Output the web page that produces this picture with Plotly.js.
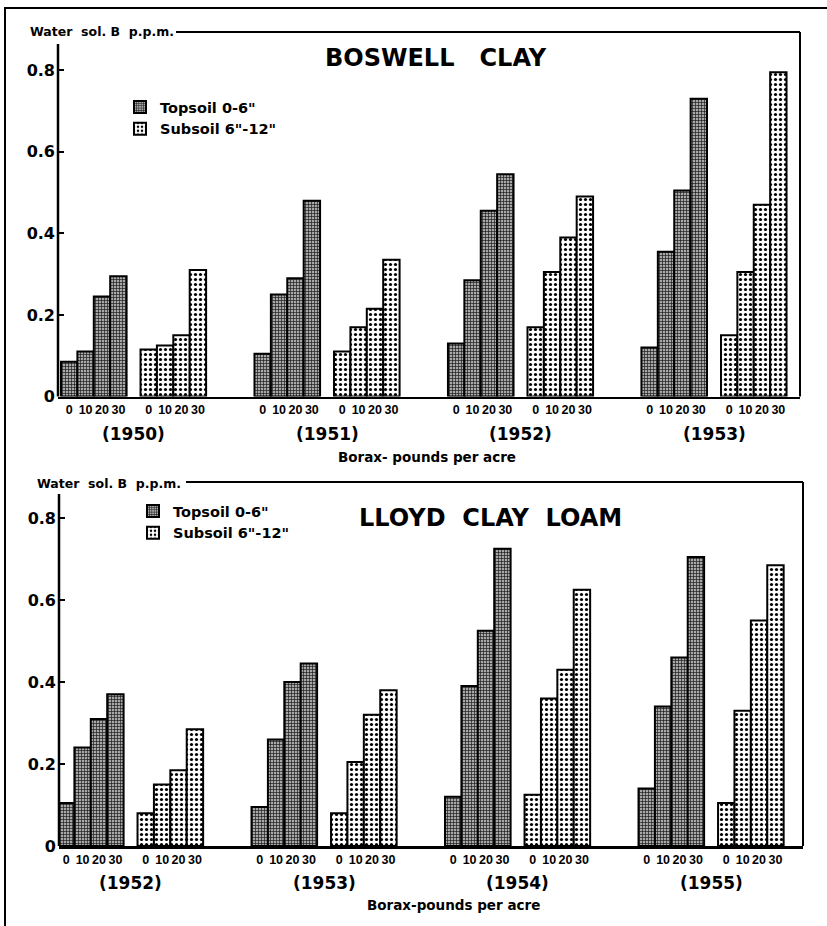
<!DOCTYPE html>
<html>
<head>
<meta charset="utf-8">
<script src="https://cdn.plot.ly/plotly-3.0.1.min.js"></script>
<style>html,body{margin:0;padding:0;background:#fff;}#chart{width:827px;height:926px;}</style>
</head>
<body>
<div id="chart"></div>
<script>
// ---------- data ----------
const doses = ['0', '10', '20', '30'];
const boswellYears = ['1950', '1951', '1952', '1953'];
const lloydYears = ['1952', '1953', '1954', '1955'];
// values grouped by year, four borax rates each (0, 10, 20, 30 lb/acre)
const boswellTopsoil = [0.085, 0.11, 0.245, 0.295,  0.105, 0.25, 0.29, 0.48,  0.13, 0.285, 0.455, 0.545,  0.12, 0.355, 0.505, 0.73];
const boswellSubsoil = [0.115, 0.125, 0.15, 0.31,  0.11, 0.17, 0.215, 0.335,  0.17, 0.305, 0.39, 0.49,  0.15, 0.305, 0.47, 0.795];
const lloydTopsoil = [0.105, 0.24, 0.31, 0.37,  0.095, 0.26, 0.40, 0.445,  0.12, 0.39, 0.525, 0.725,  0.14, 0.34, 0.46, 0.705];
const lloydSubsoil = [0.08, 0.15, 0.185, 0.285,  0.08, 0.205, 0.32, 0.38,  0.125, 0.36, 0.43, 0.625,  0.105, 0.33, 0.55, 0.685];
const yTickVals = [0, 0.2, 0.4, 0.6, 0.8];
const yTickText = ['0', '0.2', '0.4', '0.6', '0.8'];
const legendTop = 'Topsoil 0-6"';
const legendSub = 'Subsoil 6"-12"';

// ---------- layout helpers ----------
const W = 827, H = 926;
const YEAR_STEP = 11.8, SOIL_STEP = 4.85;
const FONT = 'DejaVu Sans';
function pos(yearIdx, soilIdx, doseIdx) { return yearIdx * YEAR_STEP + soilIdx * SOIL_STEP + doseIdx; }
function xs(soilIdx) { const a = []; for (let y = 0; y < 4; y++) for (let d = 0; d < 4; d++) a.push(pos(y, soilIdx, d)); return a; }
const px = v => v / W, py = v => 1 - v / H;

const topPattern = {shape: '+', fgcolor: '#1a1a1a', bgcolor: '#a8a8a8', size: 3, solidity: 0.4};
const subPattern = {shape: '.', fgcolor: '#000', bgcolor: '#fff', size: 5, solidity: 0.32};
function barTrace(xvals, yvals, name, pattern, xa, ya, leg) {
  return {
    type: 'bar', x: xvals, y: yvals, name: name, width: 1,
    xaxis: xa, yaxis: ya, legend: leg,
    marker: {color: pattern.bgcolor, pattern: pattern, line: {color: '#000', width: 2}},
    hoverinfo: 'y'
  };
}
const data = [
  barTrace(xs(0), boswellTopsoil, legendTop, topPattern, 'x', 'y', 'legend'),
  barTrace(xs(1), boswellSubsoil, legendSub, subPattern, 'x', 'y', 'legend'),
  barTrace(xs(0), lloydTopsoil, legendTop, topPattern, 'x2', 'y2', 'legend2'),
  barTrace(xs(1), lloydSubsoil, legendSub, subPattern, 'x2', 'y2', 'legend2')
];

const tickX = xs(0).concat(xs(1));
const tickT = tickX.map((_, i) => doses[i % 4]);

function xAxis(domain, range, anchor) {
  return {domain: domain, range: range, anchor: anchor, showgrid: false, zeroline: false,
    showline: true, linecolor: '#000', linewidth: 2.5, ticks: '', tickmode: 'array', tickangle: 0,
    tickvals: tickX, ticktext: tickT, tickfont: {family: 'Liberation Sans', size: 12.5, weight: 'bold', color: '#000'},
    automargin: false, fixedrange: true};
}
function yAxis(domain, range, anchor) {
  return {domain: domain, range: range, anchor: anchor, showgrid: false, zeroline: false,
    showline: false, ticks: 'inside', ticklen: 6, tickwidth: 2, tickcolor: '#000',
    tickmode: 'array', tickvals: yTickVals, ticktext: yTickText,
    tickfont: {family: FONT, size: 16, weight: 'bold', color: '#000'}, ticklabelstandoff: 2,
    automargin: false, fixedrange: true};
}

const annotations = [];
function ann(text, x, y, size, anchor, bold) {
  annotations.push({text: text, x: px(x), y: py(y), xref: 'paper', yref: 'paper', showarrow: false,
    xanchor: anchor || 'center', yanchor: 'middle',
    font: {family: FONT, size: size, weight: bold === false ? 'normal' : 'bold', color: '#000'}});
}
function yearAnn(yearText, yearIdx, xa, yPx) {
  annotations.push({text: '(' + yearText + ')', x: pos(yearIdx, 0, 0) + (SOIL_STEP + 3) / 2, y: py(yPx),
    xref: xa, yref: 'paper', showarrow: false, xanchor: 'center', yanchor: 'middle',
    font: {family: FONT, size: 17, weight: 'bold', color: '#000'}});
}
boswellYears.forEach((t, i) => yearAnn(t, i, 'x', 434));
lloydYears.forEach((t, i) => yearAnn(t, i, 'x2', 883));
ann('BOSWELL &nbsp; CLAY', 436, 58, 24);
ann('LLOYD &nbsp;CLAY &nbsp;LOAM', 490, 518, 24);
ann('Borax- pounds per acre', 427, 457, 13.5);
ann('Borax-pounds per acre', 453, 905, 13.5);
ann('Water &nbsp;sol. B &nbsp;p.p.m.', 28, 32, 12.5, 'left');
ann('Water &nbsp;sol. B &nbsp;p.p.m.', 35, 483, 12.5, 'left');

function line(x0, y0, x1, y1, w) {
  return {type: 'line', xref: 'paper', yref: 'paper', x0: px(x0), y0: py(y0), x1: px(x1), y1: py(y1),
    line: {color: '#000', width: w || 2}};
}
const shapes = [
  line(5, 7, 5, 926, 2),       // page left edge
  line(5, 8, 827, 8, 2),       // page top edge
  line(176, 32, 800, 32, 2),   // top chart frame
  line(800, 32, 800, 396.5, 2),
  line(58, 44, 58, 396.5, 2.5),
  line(186, 482, 803, 482, 2), // bottom chart frame
  line(803, 482, 803, 846, 2),
  line(59, 494, 59, 846, 2.5)
];

const legendFont = {family: FONT, size: 14.5, weight: 'bold', color: '#000'};
const layout = {
  width: W, height: H, margin: {l: 0, r: 0, t: 0, b: 0},
  paper_bgcolor: '#fff', plot_bgcolor: 'rgba(0,0,0,0)',
  barmode: 'overlay', bargap: 0,
  xaxis: xAxis([px(58), px(800)], [-0.683, 44.57], 'y'),
  yaxis: yAxis([py(396.5), py(32)], [0, (396.5 - 32) / 408], 'x'),
  xaxis2: xAxis([px(59), px(803)], [-0.439, 44.93], 'y2'),
  yaxis2: yAxis([py(846), py(482)], [0, (846 - 482) / 410], 'x2'),
  legend: {x: px(120), y: py(91), xanchor: 'left', yanchor: 'top', bgcolor: 'rgba(0,0,0,0)',
    font: legendFont, tracegroupgap: 0, itemwidth: 30},
  legend2: {x: px(133), y: py(495), xanchor: 'left', yanchor: 'top', bgcolor: 'rgba(0,0,0,0)',
    font: legendFont, tracegroupgap: 0, itemwidth: 30},
  annotations: annotations, shapes: shapes, showlegend: true
};
Plotly.newPlot('chart', data, layout, {displayModeBar: false, staticPlot: true});
</script>
</body>
</html>
